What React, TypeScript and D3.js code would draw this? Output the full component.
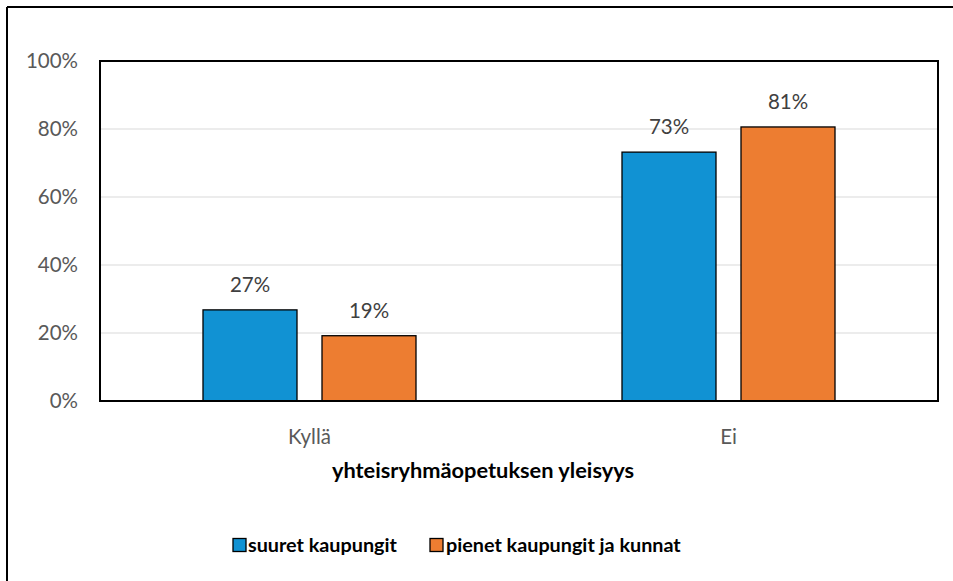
import React from "react";
import * as d3 from "d3";

const categories = ["Kyllä", "Ei"];
const seriesNames = ["suuret kaupungit", "pienet kaupungit ja kunnat"];
const suuret = [0.268, 0.732];
const pienet = [0.192, 0.806];
const yTicks = [0, 0.2, 0.4, 0.6, 0.8, 1.0];
const axisTitle = "yhteisryhmäopetuksen yleisyys";
const colors = ["#1192D3", "#ED7D31"];

const W = 953;
const H = 581;
const plot = { left: 100, top: 61, right: 938, bottom: 401 };
const FONT = "Lato, 'Open Sans', sans-serif";

export default function App() {
  const x = d3.scaleBand<string>().domain(categories).range([plot.left, plot.right]).paddingInner(0).paddingOuter(0);
  const y = d3.scaleLinear().domain([0, 1]).range([plot.bottom, plot.top]);
  const series = [suuret, pienet];
  const groupW = 213;
  const barW = 94;
  const gap = 25;

  return (
    <svg width={W} height={H} style={{ position: "absolute", left: 0, top: 0, background: "#fff" }}>
      <line x1={7} y1={7} x2={W} y2={7} stroke="#000" strokeWidth={2} />
      <line x1={7} y1={7} x2={7} y2={H} stroke="#000" strokeWidth={2} />
      {yTicks.map((t) => (
        <g key={t}>
          {t > 0 && t < 1 && (
            <line x1={plot.left} x2={plot.right} y1={y(t)} y2={y(t)} stroke="#d9d9d9" strokeWidth={1} />
          )}
          <text x={78} y={y(t)} dy="0.36em" textAnchor="end" fontFamily={FONT} fontSize={20.5} fill="#595959">
            {d3.format(".0%")(t)}
          </text>
        </g>
      ))}
      {categories.map((c, ci) => {
        const cx = (x(c) as number) + x.bandwidth() / 2;
        const gx = cx - groupW / 2;
        return (
          <g key={c}>
            {series.map((s, si) => {
              const bx = gx + si * (barW + gap);
              const v = s[ci];
              return (
                <g key={si}>
                  <rect x={bx} y={y(v)} width={barW} height={y(0) - y(v)} fill={colors[si]} stroke="#000" strokeWidth={1.3} />
                  <text x={bx + barW / 2} y={y(v) - 18} textAnchor="middle" fontFamily={FONT} fontSize={20.5} fill="#404040">
                    {Math.round(v * 100) + "%"}
                  </text>
                </g>
              );
            })}
            <text x={cx} y={437} dy="0.36em" textAnchor="middle" fontFamily={FONT} fontSize={20.5} fill="#595959">
              {c}
            </text>
          </g>
        );
      })}
      <rect x={plot.left} y={plot.top} width={plot.right - plot.left} height={plot.bottom - plot.top} fill="none" stroke="#000" strokeWidth={2} />
      <text x={483} y={470} dy="0.36em" textAnchor="middle" fontFamily={FONT} fontSize={21.8} fontWeight="bold" fill="#000">
        {axisTitle}
      </text>
      <g>
        <rect x={233} y={538.5} width={13} height={13} fill={colors[0]} stroke="#000" strokeWidth={1.3} />
        <text x={248} y={545} dy="0.36em" fontFamily={FONT} fontSize={19.8} fontWeight="bold" fill="#000">{seriesNames[0]}</text>
        <rect x={430} y={538.5} width={13} height={13} fill={colors[1]} stroke="#000" strokeWidth={1.3} />
        <text x={446} y={545} dy="0.36em" fontFamily={FONT} fontSize={19.8} fontWeight="bold" fill="#000">{seriesNames[1]}</text>
      </g>
    </svg>
  );
}
